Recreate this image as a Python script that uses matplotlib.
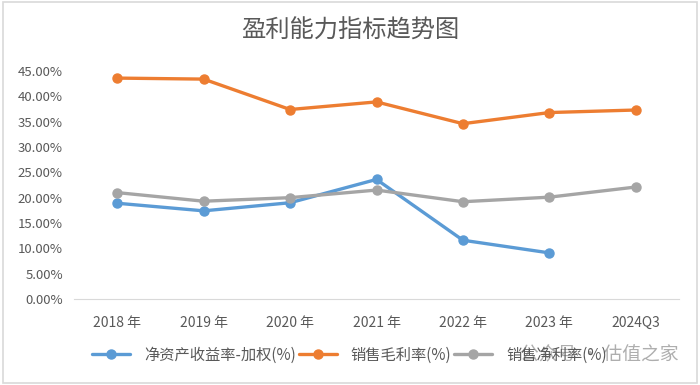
import matplotlib.pyplot as plt
from matplotlib.patches import Rectangle
from matplotlib.ticker import FuncFormatter

plt.rcParams['font.family'] = ['Noto Sans CJK SC', 'DejaVu Sans']

years = ['2018 年', '2019 年', '2020 年', '2021 年', '2022 年', '2023 年', '2024Q3']
roe = [18.9, 17.4, 19.0, 23.6, 11.6, 9.1]
gross = [43.6, 43.4, 37.4, 38.9, 34.6, 36.8, 37.3]
net = [21.0, 19.3, 20.0, 21.5, 19.2, 20.1, 22.1]
names = ['净资产收益率-加权(%)', '销售毛利率(%)', '销售净利率(%)']
colors = ['#5B9BD5', '#ED7D31', '#A5A5A5']
txt = '#595959'

fig = plt.figure(figsize=(7, 3.85), dpi=100)
ax = fig.add_axes([74 / 700, 1 - 299 / 385, 605 / 700, 228 / 385])

x = list(range(len(years)))
for vals, name, c in zip([roe, gross, net], names, colors):
    ax.plot(x[:len(vals)], vals, color=c, lw=2.4, marker='o', ms=6.5,
            label=name, solid_capstyle='round')

ax.set_xlim(-0.5, len(years) - 0.5)
ax.set_ylim(0, 45)
ax.set_yticks(range(0, 46, 5))
ax.yaxis.set_major_formatter(FuncFormatter(lambda v, p: f'{v:.2f}%'))
ax.set_xticks(x)
ax.set_xticklabels(years)
ax.tick_params(axis='both', length=0, labelsize=9.5, colors=txt)
ax.tick_params(axis='x', pad=12, labelsize=10)
ax.tick_params(axis='y', pad=8)
for s in ['top', 'right', 'left']:
    ax.spines[s].set_visible(False)
ax.spines['bottom'].set_color('#D9D9D9')

fig.text(0.5, 1 - 31 / 385, '盈利能力指标趋势图', ha='center', va='center',
         fontsize=17.5, color=txt, fontweight='light')

leg = fig.legend(loc='center', bbox_to_anchor=(0.499, 1 - 355 / 385), ncol=3,
                 frameon=False, fontsize=11, handlelength=2.5,
                 columnspacing=0.2, handletextpad=0.9)
for t in leg.get_texts():
    t.set_color(txt)

# watermark sitting over the legend, as in the source image
fig.text(0.856, 1 - 355 / 385, '公众号 · 估值之家', ha='center', va='center',
         fontsize=13.5, color='#9A9A9A', alpha=0.8)

fig.patches.append(Rectangle((0.004, 0.005), 0.992, 0.99, transform=fig.transFigure,
                             fill=False, edgecolor='#D9D9D9', lw=1.2))

fig.savefig('out.png', dpi=100)
